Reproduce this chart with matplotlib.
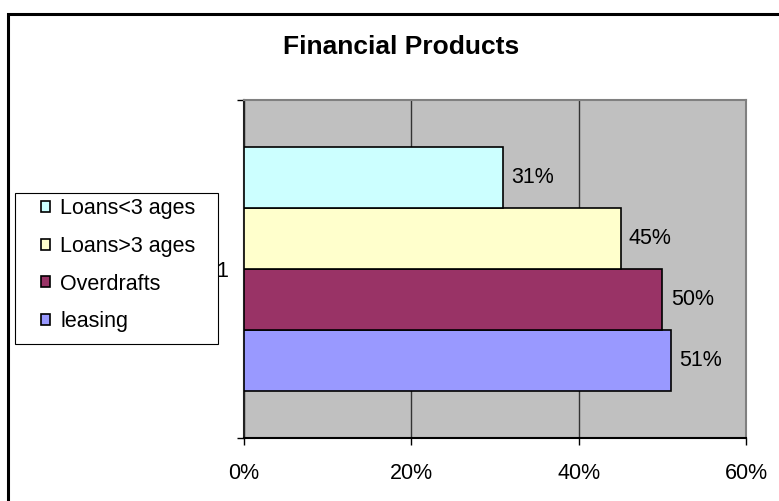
import matplotlib
matplotlib.use("Agg")
import matplotlib.pyplot as plt
from matplotlib.patches import Rectangle
from matplotlib.ticker import FuncFormatter, FixedLocator

plt.rcParams['font.family'] = ['Liberation Sans', 'DejaVu Sans']

# Data
categories = ["leasing", "Overdrafts", "Loans>3 ages", "Loans<3 ages"]
values = [51, 50, 45, 31]
colors = ["#9999FF", "#993366", "#FFFFCC", "#CCFFFF"]
x_ticks = [0, 20, 40, 60]

W, H = 779, 501
FS = 15.5
fig = plt.figure(figsize=(W / 100, H / 100), dpi=100)

# Outer chart frame
fig.patches.append(Rectangle((8 / W, -0.05), 1.2, 1 - 14 / H + 0.05,
                             transform=fig.transFigure, fill=False,
                             edgecolor="black", linewidth=2.2, zorder=-2))

# Legend box (drawn beneath the axes so the category label stays visible)
fig.patches.append(Rectangle((15 / W, 1 - 344 / H), (218 - 15) / W,
                             (344 - 193) / H, transform=fig.transFigure,
                             facecolor="white", edgecolor="black",
                             linewidth=0.8, zorder=-1))

ax = fig.add_axes([244 / W, 1 - 438 / H, (746 - 244) / W, (438 - 100) / H])
ax.set_facecolor("#C0C0C0")

bar_h = 0.18
n = len(categories)
offsets = [(i - (n - 1) / 2) * bar_h for i in range(n)]
handles = []
for i, (cat, val, col) in enumerate(zip(categories, values, colors)):
    y = 1 + offsets[i]
    b = ax.barh(y, val, height=bar_h, color=col, edgecolor="black",
                linewidth=1.2, label=cat, zorder=3)
    handles.append(b)
    ax.text(val + 1.0, y, f"{val}%", va="center", ha="left", fontsize=FS,
            zorder=4)

ax.set_xlim(0, 60)
ax.set_ylim(0.5, 1.5)
ax.xaxis.set_major_locator(FixedLocator(x_ticks))
ax.xaxis.set_major_formatter(FuncFormatter(lambda v, p: f"{int(v)}%"))
ax.tick_params(axis="x", direction="out", length=5, width=1, pad=13,
               labelsize=FS, colors="black")
ax.grid(axis="x", color="#333333", linewidth=1, zorder=1)

ax.set_yticks([1])
ax.set_yticklabels(["1"])
ax.set_yticks([0.5, 1.5], minor=True)
ax.tick_params(axis="y", which="major", length=0, pad=11.5, labelsize=FS)
ax.tick_params(axis="y", which="minor", direction="out", length=5, width=1)

for s in ["top", "right"]:
    ax.spines[s].set_color("#808080")
    ax.spines[s].set_linewidth(1.5)
ax.spines["left"].set_color("#222222")
ax.spines["left"].set_linewidth(1.5)
ax.spines["bottom"].set_color("black")
ax.spines["bottom"].set_linewidth(1.5)

fig.text(401 / W, 1 - 47 / H, "Financial Products", ha="center", va="center",
         fontsize=19, fontweight="bold")

leg = fig.legend(handles[::-1], categories[::-1], loc="upper left",
                 bbox_to_anchor=(40.5 / W, 1 - 198 / H), fontsize=FS,
                 frameon=False,
                 handlelength=0.42, handleheight=0.42, handletextpad=0.5,
                 labelspacing=0.78, borderpad=0, borderaxespad=0)

fig.savefig("out.png", dpi=100)
